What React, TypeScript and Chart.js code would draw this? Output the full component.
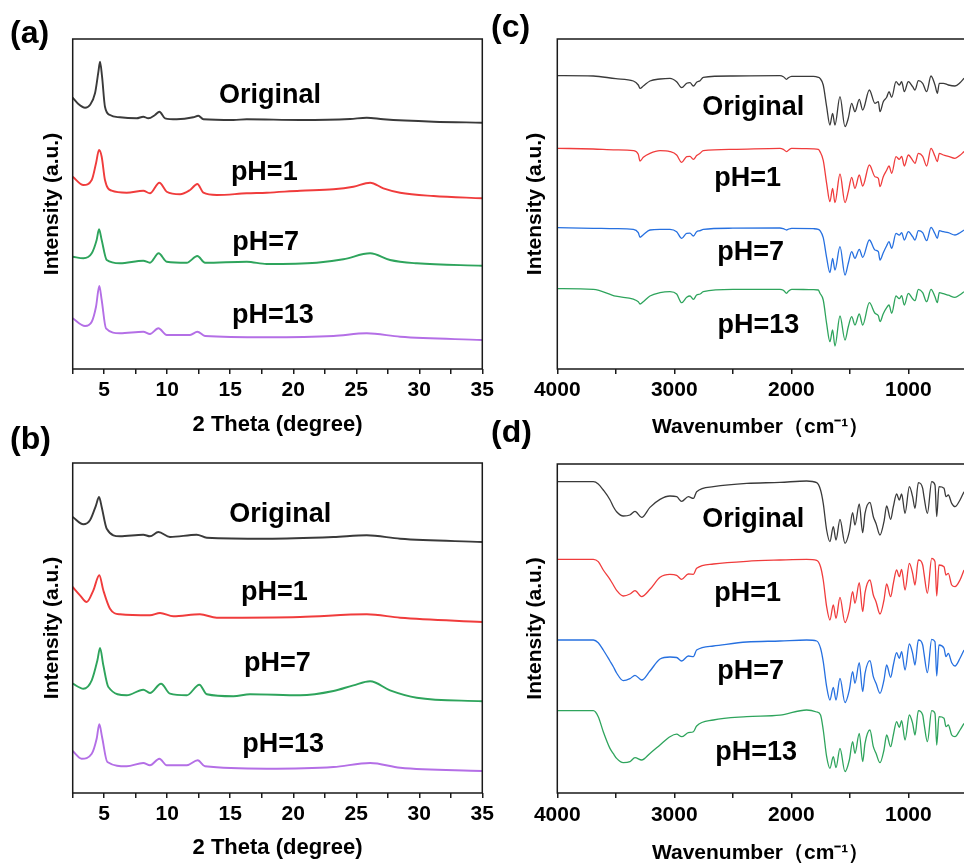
import React, { useEffect, useRef } from 'react';
import { Chart, registerables } from 'chart.js';

Chart.register(...registerables);

const FONT = '"Liberation Sans", Arial, Helvetica, sans-serif';
Chart.defaults.font.family = FONT;

// ---------------- DATA ----------------
const seriesNames = ['Original', 'pH=1', 'pH=7', 'pH=13'];
const xrdColors = ['#3a3a3a', '#f03c3c', '#2ea45c', '#b46fe6'];
const ftirColors = ['#3a3a3a', '#f03c3c', '#2670e0', '#2ea45c'];

// XRD tick values
const xrdTicks = [2.5, 5, 7.5, 10, 12.5, 15, 17.5, 20, 22.5, 25, 27.5, 30, 32.5, 35];
const xrdTickLabels = [5, 10, 15, 20, 25, 30, 35];
// FTIR tick values
const ftirTicks = [4000, 3500, 3000, 2500, 2000, 1500, 1000];
const ftirTickLabels = [4000, 3000, 2000, 1000];

// (a) XRD
const aOriginalX = [2.5, 2.95, 3.48, 3.87, 4.27, 4.54, 4.67, 4.83, 5.06, 5.46, 6.25, 7.57, 8.1, 8.5, 9.03, 9.38, 9.83, 10.75, 12.07, 12.47, 12.87, 15.25, 16.31, 20.54, 24.51, 25.83, 27.15, 31.13, 35];
const aOriginalY = [271.3, 265, 261.3, 264, 275.7, 297.3, 307.3, 292.3, 262.3, 254, 251.7, 250.7, 252.3, 250.7, 254, 257.3, 250.7, 249.7, 251.7, 253.3, 249.7, 249, 249.7, 249, 250, 251.3, 249.7, 247.3, 246.3];
const aPh1X = [2.5, 3.35, 4.01, 4.35, 4.59, 4.8, 5.06, 5.59, 6.78, 8.1, 8.63, 9.38, 9.96, 11.02, 11.81, 12.39, 12.87, 13.93, 16.31, 17.89, 20.54, 23.19, 24.77, 26.1, 27.15, 28.48, 31.13, 35];
const aPh1Y = [192.3, 184, 189, 205.7, 219, 212.3, 189, 178.3, 176.3, 178.3, 175.7, 186.3, 177.3, 174.7, 179, 185, 176.3, 174, 175.7, 176.3, 178.3, 179.7, 182.3, 186.3, 180.7, 176.3, 173, 170.7];
const aPh7X = [2.5, 3.35, 4.01, 4.4, 4.59, 4.8, 5.2, 6.25, 8.1, 8.63, 9.32, 9.96, 11.55, 12.39, 13.0, 16.31, 17.89, 21.86, 23.98, 26.1, 27.68, 29.8, 35];
const aPh7Y = [112.3, 110.7, 115.7, 129, 139.7, 129, 109, 105.7, 108.3, 106.3, 115.7, 107.3, 106.3, 113, 106.3, 107.3, 105, 106.3, 109.7, 115.7, 109, 105.7, 103.3];
const aPh13X = [2.5, 3.48, 4.01, 4.35, 4.61, 4.8, 5.14, 6.25, 8.1, 8.63, 9.3, 9.96, 11.81, 12.39, 13.0, 17.89, 23.19, 25.83, 28.48, 35];
const aPh13Y = [50.7, 43, 47.3, 62.3, 83, 69, 40.7, 35.7, 37.3, 35, 40.7, 34, 34, 37.3, 33, 31.7, 33, 35.7, 32.3, 29];

// (b) XRD
const bOriginalX = [2.5, 3.35, 3.87, 4.35, 4.59, 4.8, 5.2, 6.25, 8.1, 8.63, 9.3, 10.22, 12.34, 13.14, 17.89, 23.19, 25.83, 28.48, 35];
const bOriginalY = [276, 268.7, 272.7, 287.7, 296, 286, 264.3, 256.7, 258.3, 256.7, 261, 256, 258.3, 255.3, 254.3, 256, 257.7, 254.3, 251];
const bPh1X = [2.5, 3.08, 3.61, 4.14, 4.61, 4.93, 5.46, 6.25, 8.63, 9.43, 10.49, 12.6, 13.93, 20.54, 25.83, 28.48, 35];
const bPh1Y = [206, 197.7, 191, 202.7, 217.7, 202.7, 184.3, 178.7, 177.7, 180, 176.7, 178.7, 175.3, 176, 178.7, 175.3, 171];
const bPh7X = [2.5, 3.35, 4.01, 4.46, 4.67, 4.93, 5.33, 6.78, 8.1, 8.63, 9.51, 10.22, 11.55, 12.55, 13.14, 15.25, 16.57, 20.54, 23.19, 24.77, 26.1, 27.68, 29.8, 35];
const bPh7Y = [109.3, 104.3, 112.7, 132.7, 145, 127.7, 106, 97.7, 103.3, 100, 109.3, 99.3, 97.7, 108.3, 98.7, 96.7, 98.7, 97.7, 102, 107.7, 111.7, 102.7, 95.3, 91.7];
const bPh13X = [2.5, 3.21, 4.01, 4.4, 4.61, 4.83, 5.25, 6.78, 8.1, 8.63, 9.38, 9.96, 11.55, 12.42, 13.0, 17.89, 23.19, 26.1, 28.48, 35];
const bPh13Y = [42, 34.3, 39.3, 54.3, 68.7, 56, 31, 26.7, 30, 27.7, 34.3, 27.7, 27.7, 32.7, 26.7, 24.3, 26, 30, 25.3, 22];

// (c) FTIR — wavenumbers, values relative to each trace's flat level, and stacking offsets
const cX = [4000, 3692, 3500, 3350, 3308, 3293, 3265, 3208, 3122, 3037, 2980, 2937, 2894, 2866, 2837, 2809, 2780, 2752, 2500, 2097, 2068, 2040, 2025, 1997, 1812, 1769, 1755, 1727, 1698, 1670, 1647, 1627, 1584, 1541, 1513, 1484, 1456, 1419, 1390, 1333, 1285, 1256, 1242, 1214, 1185, 1165, 1142, 1105, 1077, 1057, 1034, 1000, 963, 943, 914, 877, 843, 806, 772, 752, 735, 700, 658, 601, 558, 524];
const cOriginal = [0, -0.3, -3, -5.3, -9.3, -12.6, -10.3, -5.3, -3.3, -2.6, -6, -12, -7.6, -7, -10.3, -6.6, -5, -1.6, -0.3, 0, -1, -3.6, -2, -0.6, -0.6, -1.6, -2.6, -9.3, -31, -49.3, -37.6, -49.3, -21, -51, -42.6, -27.6, -36, -23.6, -34.3, -14.3, -27.6, -26, -36, -26, -21.6, -16, -21.6, -6, -9.3, -6, -16, -6, -11, -14.3, -5, -7.6, -16, -0.3, -9.3, -17.6, -7.6, -7.6, -9.3, -10.3, -7, -2.6];
const cPh1 = [0, -0.7, -1.5, -2.3, -6, -12.7, -9, -5, -2.3, -3.3, -6.7, -14, -8.3, -8, -11, -7.3, -5, -2.3, -1, 0, -1, -3.3, -2, 0, -0.5, -1, -3.3, -12, -35, -53.4, -40, -54.4, -25.7, -54.4, -43.4, -29, -40, -26.7, -37.7, -16.7, -28.4, -30, -38.4, -28.4, -22, -17.7, -25, -8.4, -11, -8, -17.7, -6.7, -12, -15, -5, -8, -17.7, 0, -8, -13.4, -5, -6.7, -8, -10, -7, -3.3];
const cPh7 = [0, -0.6, -1, -1.6, -5, -9.6, -7, -2.3, -1.6, -1.6, -4, -10.6, -5.6, -5.5, -8.3, -4, -3, -1.6, -0.5, -0.3, -1, -2.3, -1.5, -0.6, -1, -1.6, -3, -10, -30, -45, -30.6, -42.3, -19, -47.3, -35.6, -24, -30.6, -21.6, -29.6, -12.3, -22.3, -24, -32.3, -25, -18, -14, -20.6, -5.6, -7.5, -5, -12.3, -4, -9, -12.3, -3, -5, -13, 0.3, -6, -10.6, -3, -4, -5, -7.3, -5, -2.3];
const cPh13 = [0, -0.6, -7.5, -10.5, -13, -15.3, -13, -7.3, -4, -3, -5.3, -14, -8.6, -7.3, -10.6, -6.3, -5.3, -3, -0.6, -0.6, -1.5, -4.6, -2.5, -0.6, -1, -1.3, -4.6, -11.3, -35, -53, -41.3, -57.3, -27.3, -51.3, -38, -28, -36.3, -25.3, -36.3, -14, -24.6, -27, -33, -25, -19, -16.3, -24.6, -7.3, -10, -7, -16.3, -4.6, -10, -12, -0.6, -4, -13, -0.6, -8, -14, -4, -5, -6.5, -8.6, -6, -3];
const cOffsets = [293.3, 220.7, 141.3, 80.3];

// (d) FTIR
const dX = [4000, 3692, 3650, 3607, 3550, 3521, 3493, 3436, 3379, 3336, 3279, 3208, 3122, 3037, 2980, 2937, 2880, 2837, 2809, 2666, 2381, 2097, 1869, 1783, 1750, 1727, 1698, 1670, 1641, 1618, 1584, 1541, 1504, 1476, 1456, 1419, 1390, 1370, 1328, 1299, 1276, 1242, 1208, 1185, 1151, 1128, 1100, 1077, 1057, 1028, 991, 963, 943, 914, 877, 866, 837, 800, 772, 757, 738, 695, 678, 658, 629, 601, 558, 524];
const dOriginal = [0, 0, -2.3, -8.3, -18, -25, -30, -34.3, -33.3, -29.7, -35.7, -25.7, -17.7, -14.3, -15, -19.7, -15, -16.7, -10, -5, -1.7, -0.7, 0.7, -1, -8.3, -21.7, -48.3, -60, -45, -58.3, -37.7, -61.7, -50, -31, -43.3, -22.3, -51, -31.7, -20.7, -35, -41.7, -53.3, -40, -24.3, -37.7, -25, -12.3, -18.3, -12.3, -31.7, -5, -15, -26.7, -1, -6.6, -15, -31.7, 0, -3.3, -35, -5, -6.6, -15, -13.3, -21.7, -25, -18.3, -10];
const dPh1 = [0, 0, -2.3, -10.7, -20, -25.7, -31, -36.7, -34.7, -31.3, -37.3, -30, -18, -15, -16, -20, -14.7, -15, -9, -4.7, -2, -0.7, 0, -1, -7.4, -20.7, -47.4, -60.7, -45.7, -59, -38, -63.4, -50.7, -32.4, -44, -23.4, -52.4, -33.4, -20.7, -35.7, -42.4, -54.7, -40.7, -24.7, -37.4, -24, -10.7, -17.4, -10, -30.7, -4, -14, -25.7, -0.7, -5.7, -14, -34, 1, -2.3, -36.7, -5.7, -7.4, -15.7, -14, -25.7, -27.4, -20.7, -10.7];
const dPh7 = [0, 0, -2.7, -10, -21, -26.7, -33, -40.7, -38.7, -35.3, -40, -31, -19, -17, -17.5, -21, -16, -16.7, -10, -6, -2, -1, 0, -1, -8.3, -21.7, -46.7, -60, -47.3, -60, -38.3, -62.7, -50, -31.7, -43.3, -22.7, -51.7, -33.3, -20.7, -36.7, -43.3, -53.3, -40, -25, -37.3, -25, -12.7, -18.3, -11.7, -30, -4, -13.3, -25, 0, -5, -13.3, -32.7, 0.7, -1.7, -36, -5, -8.3, -16.7, -13.3, -22.7, -26, -18.3, -10];
const dPh13 = [0, 0, -6, -21, -37.7, -43, -47.7, -52, -51, -47, -49.3, -42.7, -34.3, -26, -23.5, -26, -22, -21, -15.3, -9.3, -6, -4.5, 0.7, -1.3, -4.3, -19.3, -46, -57.6, -46, -57, -37.6, -61, -49.3, -31, -42.6, -22.6, -51, -32.6, -19.3, -36, -42.6, -52, -39.3, -24.3, -36, -24.3, -11, -16.6, -10, -29.3, -4.3, -12.6, -24.3, 0, -4.3, -12.6, -31, 0, -2.7, -34.3, -6, -7.6, -16, -14.3, -24.3, -26, -19.3, -12.7];
const dOffsets = [311.3, 233.7, 153, 82.3];

// label anchor positions (data coordinates)
const aNoteX = [18.16, 17.7, 17.8, 18.38];
const aNoteY = [266.3, 189, 119, 45.7];
const bNoteX = [18.97, 18.5, 18.75, 19.19];
const bNoteY = [271, 192.7, 122, 41];
const cNoteX = [2325, 2373, 2347, 2281];
const cNoteY = [254, 183, 109, 36.3];
const dNoteX = [2325, 2373, 2347, 2300];
const dNoteY = [266.3, 192.3, 113.7, 33];

// ---------------- PANELS ----------------
type Series = { x: number[]; y: number[]; offset: number; color: string; width: number };
type PanelSpec = {
  letter: string; letterX: number; letterY: number;
  left: number; top: number; width: number; height: number;
  padTop: number; padRight: number; yAxisWidth: number; xAxisHeight: number;
  xMin: number; xMax: number; reverse: boolean;
  tickValues: number[]; tickLabels: number[]; tickPadding: number;
  xTitle: string; xTitleSize: number; xTitlePadBottom: number;
  yTitlePadTop: number; yMax: number; frameRight: boolean;
  series: Series[];
  noteX: number[]; noteY: number[];
};

const mk = (xs: number[][], ys: number[][], offsets: number[], colors: string[], width: number): Series[] =>
  ys.map((y, i) => ({ x: xs[i], y, offset: offsets[i], color: colors[i], width }));

const panels: PanelSpec[] = [
  {
    letter: '(a)', letterX: 10, letterY: 43,
    left: 0, top: 0, width: 500, height: 440,
    padTop: 39, padRight: 17.7, yAxisWidth: 72.7, xAxisHeight: 71,
    xMin: 2.5, xMax: 35, reverse: false,
    tickValues: xrdTicks, tickLabels: xrdTickLabels, tickPadding: 3.5,
    xTitle: '2 Theta (degree)', xTitleSize: 22, xTitlePadBottom: 1.4,
    yTitlePadTop: 39.4, yMax: 330, frameRight: true,
    series: mk([aOriginalX, aPh1X, aPh7X, aPh13X], [aOriginalY, aPh1Y, aPh7Y, aPh13Y], [0, 0, 0, 0], xrdColors, 1.9),
    noteX: aNoteX, noteY: aNoteY,
  },
  {
    letter: '(b)', letterX: 10, letterY: 29,
    left: 0, top: 420, width: 500, height: 446,
    padTop: 43, padRight: 17.7, yAxisWidth: 72.7, xAxisHeight: 73,
    xMin: 2.5, xMax: 35, reverse: false,
    tickValues: xrdTicks, tickLabels: xrdTickLabels, tickPadding: 3.5,
    xTitle: '2 Theta (degree)', xTitleSize: 22, xTitlePadBottom: 4.8,
    yTitlePadTop: 39.4, yMax: 330, frameRight: true,
    series: mk([bOriginalX, bPh1X, bPh7X, bPh13X], [bOriginalY, bPh1Y, bPh7Y, bPh13Y], [0, 0, 0, 0], xrdColors, 1.9),
    noteX: bNoteX, noteY: bNoteY,
  },
  {
    letter: '(c)', letterX: 11, letterY: 37,
    left: 480, top: 0, width: 484, height: 440,
    padTop: 39, padRight: 0, yAxisWidth: 77.3, xAxisHeight: 71,
    xMin: 524, xMax: 4000, reverse: true,
    tickValues: ftirTicks, tickLabels: ftirTickLabels, tickPadding: 3.5,
    xTitle: 'Wavenumber（cm⁻¹）', xTitleSize: 21, xTitlePadBottom: 0,
    yTitlePadTop: 42.4, yMax: 330, frameRight: false,
    series: mk([cX, cX, cX, cX], [cOriginal, cPh1, cPh7, cPh13], cOffsets, ftirColors, 1.3),
    noteX: cNoteX, noteY: cNoteY,
  },
  {
    letter: '(d)', letterX: 11, letterY: 22,
    left: 480, top: 420, width: 484, height: 446,
    padTop: 44, padRight: 0, yAxisWidth: 77.3, xAxisHeight: 73,
    xMin: 524, xMax: 4000, reverse: true,
    tickValues: ftirTicks, tickLabels: ftirTickLabels, tickPadding: 4.5,
    xTitle: 'Wavenumber（cm⁻¹）', xTitleSize: 21, xTitlePadBottom: 0.5,
    yTitlePadTop: 43, yMax: 329, frameRight: false,
    series: mk([dX, dX, dX, dX], [dOriginal, dPh1, dPh7, dPh13], dOffsets, ftirColors, 1.3),
    noteX: dNoteX, noteY: dNoteY,
  },
];

function Panel({ spec }: { spec: PanelSpec }) {
  const ref = useRef<HTMLCanvasElement>(null);
  useEffect(() => {
    const canvas = ref.current;
    if (!canvas) return;
    const overlay = {
      id: 'overlay',
      afterDatasetsDraw(chart: any) {
        const { ctx, chartArea: ca, scales } = chart;
        ctx.save();
        ctx.strokeStyle = '#1a1a1a';
        ctx.lineWidth = 1.5;
        ctx.beginPath();
        if (spec.frameRight) {
          ctx.rect(ca.left, ca.top, ca.right - ca.left, ca.bottom - ca.top);
        } else {
          ctx.moveTo(ca.right + 2, ca.top);
          ctx.lineTo(ca.left, ca.top);
          ctx.lineTo(ca.left, ca.bottom);
          ctx.lineTo(ca.right + 2, ca.bottom);
        }
        ctx.stroke();
        ctx.fillStyle = '#000';
        ctx.font = `bold 27px ${FONT}`;
        ctx.textAlign = 'center';
        ctx.textBaseline = 'alphabetic';
        seriesNames.forEach((name, i) => {
          ctx.fillText(name, scales.x.getPixelForValue(spec.noteX[i]), scales.y.getPixelForValue(spec.noteY[i]));
        });
        ctx.font = `bold 32px ${FONT}`;
        ctx.textAlign = 'left';
        ctx.fillText(spec.letter, spec.letterX, spec.letterY);
        ctx.restore();
      },
    };
    const chart = new Chart(canvas, {
      type: 'line',
      data: {
        datasets: spec.series.map((s, i) => ({
          label: seriesNames[i],
          data: s.x.map((x, k) => ({ x, y: s.y[k] + s.offset })),
          borderColor: s.color,
          backgroundColor: s.color,
          borderWidth: s.width,
          pointRadius: 0,
          fill: false,
          cubicInterpolationMode: 'monotone' as const,
        })),
      },
      options: {
        animation: false,
        responsive: false,
        maintainAspectRatio: false,
        events: [],
        layout: { padding: { top: spec.padTop, right: spec.padRight, left: 0, bottom: 0 } },
        plugins: { legend: { display: false }, tooltip: { enabled: false } },
        scales: {
          x: {
            type: 'linear',
            min: spec.xMin,
            max: spec.xMax,
            reverse: spec.reverse,
            afterBuildTicks: (scale: any) => {
              scale.ticks = spec.tickValues.map((v) => ({ value: v }));
            },
            afterFit: (scale: any) => {
              scale.height = spec.xAxisHeight;
            },
            ticks: {
              autoSkip: false,
              maxRotation: 0,
              minRotation: 0,
              padding: spec.tickPadding,
              color: '#000',
              font: { family: FONT, size: 21, weight: 'bold' },
              callback: (v: any) => (spec.tickLabels.includes(Number(v)) ? String(v) : ''),
            },
            grid: {
              display: true,
              drawOnChartArea: false,
              drawTicks: true,
              tickLength: 5,
              color: '#1a1a1a',
              lineWidth: 1.5,
            },
            border: { display: false },
            title: {
              display: true,
              text: spec.xTitle,
              color: '#000',
              font: { family: FONT, size: spec.xTitleSize, weight: 'bold' },
              padding: { top: 0, bottom: spec.xTitlePadBottom },
            },
          },
          y: {
            type: 'linear',
            min: 0,
            max: spec.yMax,
            ticks: { display: false },
            grid: { display: false },
            border: { display: false },
            afterFit: (scale: any) => {
              scale.width = spec.yAxisWidth;
            },
            title: {
              display: true,
              text: 'Intensity (a.u.)',
              color: '#000',
              font: { family: FONT, size: 21, weight: 'bold' },
              padding: { top: spec.yTitlePadTop, bottom: 0 },
            },
          },
        },
      } as any,
      plugins: [overlay],
    });
    return () => chart.destroy();
  }, [spec]);
  return (
    <canvas
      ref={ref}
      width={spec.width}
      height={spec.height}
      style={{ position: 'absolute', left: spec.left, top: spec.top, width: spec.width, height: spec.height }}
    />
  );
}

export default function App() {
  return (
    <div style={{ position: 'absolute', left: 0, top: 0, width: 964, height: 866, background: '#fff', overflow: 'hidden' }}>
      {panels.map((p) => (
        <Panel key={p.letter} spec={p} />
      ))}
    </div>
  );
}
